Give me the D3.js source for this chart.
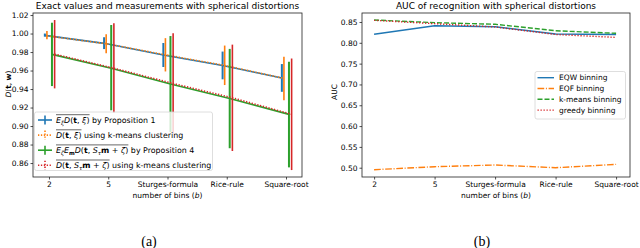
<!DOCTYPE html>
<html>
<head>
<meta charset="utf-8">
<script src="https://cdn.jsdelivr.net/npm/d3@7"></script>
<style>
  body { margin: 0; background: #fff; }
  svg { font-family: "DejaVu Sans", sans-serif; }
</style>
</head>
<body>
<div id="chart"></div>
<script>
// categories on the x axis (both panels)
var categories = ["2", "5", "Sturges-formula", "Rice-rule", "Square-root"];

// panel (a): means and error bar limits
var prop1Mean = [0.998, 0.9894, 0.9768, 0.9655, 0.952];
var prop1Lo   = [0.9966, 0.9832, 0.9638, 0.9505, 0.937];
var prop1Hi   = [1.0000, 0.9960, 0.9898, 0.9805, 0.967];

var kmMean = [0.9975, 0.989, 0.977, 0.9655, 0.9515];
var kmLo   = [0.9937, 0.9787, 0.9590, 0.9443, 0.928];
var kmHi   = [1.0027, 0.9993, 0.9950, 0.9870, 0.975];

var prop4Mean = [0.9775, 0.9624, 0.9454, 0.9297, 0.9126];
var prop4Lo   = [0.9432, 0.9170, 0.8935, 0.8760, 0.8553];
var prop4Hi   = [1.0117, 1.0092, 0.9973, 0.9834, 0.9695];

var km2Mean = [0.9777, 0.9625, 0.9460, 0.9305, 0.9127];
var km2Lo   = [0.9407, 0.9140, 0.8918, 0.8730, 0.8524];
var km2Hi   = [1.0146, 1.0110, 1.0002, 0.9880, 0.9730];

var yTicksA = [0.86, 0.88, 0.90, 0.92, 0.94, 0.96, 0.98, 1.00, 1.02];

// panel (b): AUC values
var eqwAuc    = [0.8204, 0.841, 0.8387, 0.8211, 0.820];
var eqfAuc    = [0.4952, 0.5024, 0.5065, 0.500, 0.508];
var kmeansAuc = [0.8548, 0.8484, 0.8445, 0.829, 0.8228];
var greedyAuc = [0.854, 0.846, 0.838, 0.820, 0.813];

var yTicksB = [0.50, 0.55, 0.60, 0.65, 0.70, 0.75, 0.80, 0.85];

var c = {blue: "#1f77b4", orange: "#ff7f0e", green: "#2ca02c", red: "#d62728"};
var fs = 7.5;

var svg = d3.select("#chart").append("svg")
    .attr("width", 640)
    .attr("height", 248);

// write a label made of styled pieces (mathtext-like)
function mathPieces(text, pieces) {
    var sub = false;
    pieces.forEach(function(p) {
        var ts = text.append("tspan").text(p[0]);
        var st = p[1];
        if (st.indexOf("i") >= 0) ts.attr("font-style", "italic");
        if (st.indexOf("b") >= 0) ts.attr("font-weight", "bold");
        var isSub = st.indexOf("s") >= 0;
        if (isSub) ts.attr("font-size", "0.7em");
        if (isSub && !sub) ts.attr("dy", 1.7);
        if (!isSub && sub) ts.attr("dy", -1.7);
        sub = isSub;
    });
    return sub;
}

function legendLabel(g, x, y, pieces, suffix) {
    var t = g.append("text").attr("x", x).attr("y", y).attr("font-size", 7.9);
    var sub = mathPieces(t, pieces);
    var w = t.node().getComputedTextLength();
    g.append("line")
        .attr("x1", x).attr("x2", x + w)
        .attr("y1", y - 8.1).attr("y2", y - 8.1)
        .attr("stroke", "#000").attr("stroke-width", 0.6);
    var s = t.append("tspan").text(suffix);
    if (sub) s.attr("dy", -1.7);
}

function frame(g, x, y) {
    g.append("rect")
        .attr("x", x.range()[0]).attr("y", y.range()[1])
        .attr("width", x.range()[1] - x.range()[0])
        .attr("height", y.range()[0] - y.range()[1])
        .attr("fill", "none").attr("stroke", "#222").attr("stroke-width", 0.8);
}

function axes(g, x, y, yTicks) {
    var xAxis = d3.axisBottom(x)
        .tickValues(d3.range(categories.length))
        .tickSize(2.5).tickPadding(2)
        .tickFormat(function(i) { return categories[i]; });
    var gx = g.append("g")
        .attr("transform", "translate(0," + y.range()[0] + ")")
        .call(xAxis);
    var yAxis = d3.axisLeft(y)
        .tickValues(yTicks)
        .tickSize(2.5).tickPadding(2)
        .tickFormat(d3.format(".2f"));
    var gy = g.append("g")
        .attr("transform", "translate(" + x.range()[0] + ",0)")
        .call(yAxis);
    [gx, gy].forEach(function(a) {
        a.select(".domain").remove();
        a.selectAll("text").attr("font-size", fs).attr("fill", "#000")
            .attr("font-family", "DejaVu Sans");
        a.selectAll("line").attr("stroke", "#222").attr("stroke-width", 0.8);
    });
}

function xLabel(g, cx) {
    var t = g.append("text")
        .attr("x", cx).attr("y", 198)
        .attr("text-anchor", "middle").attr("font-size", fs);
    t.append("tspan").text("number of bins (");
    t.append("tspan").attr("font-style", "italic").text("b");
    t.append("tspan").text(")");
}

// ---------- panel (a) ----------
var xa = d3.scaleLinear().domain([-0.27, 4.27]).range([33, 302]);
var ya = d3.scaleLinear().domain([0.8449, 1.0222]).range([177, 13]);
var ga = svg.append("g");

axes(ga, xa, ya, yTicksA);

var offsets = [-0.07, -0.035, 0.05, 0.095];
var seriesA = [
    {mean: prop1Mean, lo: prop1Lo, hi: prop1Hi, color: c.blue, dash: null, off: offsets[0], ew: 2},
    {mean: kmMean, lo: kmLo, hi: kmHi, color: c.orange, dash: "1.3,1.6", off: offsets[1], ew: 1.6},
    {mean: prop4Mean, lo: prop4Lo, hi: prop4Hi, color: c.green, dash: null, off: offsets[2], ew: 2},
    {mean: km2Mean, lo: km2Lo, hi: km2Hi, color: c.red, dash: "1.3,1.6", off: offsets[3], ew: 1.6}
];

seriesA.forEach(function(s) {
    var line = d3.line()
        .x(function(d, i) { return xa(i + s.off); })
        .y(function(d) { return ya(d); });
    ga.append("path")
        .attr("d", line(s.mean))
        .attr("fill", "none")
        .attr("stroke", s.color)
        .attr("stroke-width", 1.6)
        .attr("stroke-dasharray", s.dash);
    ga.selectAll(null)
        .data(s.mean)
        .enter()
        .append("line")
        .attr("x1", function(d, i) { return xa(i + s.off); })
        .attr("x2", function(d, i) { return xa(i + s.off); })
        .attr("y1", function(d, i) { return ya(s.lo[i]); })
        .attr("y2", function(d, i) { return ya(s.hi[i]); })
        .attr("stroke", s.color)
        .attr("stroke-width", s.ew);
});

frame(ga, xa, ya);

// legend (a)
var lga = ga.append("g");
lga.append("rect")
    .attr("x", 34.5).attr("y", 112).attr("width", 178).attr("height", 58.5)
    .attr("rx", 2).attr("fill", "#fff").attr("fill-opacity", 0.8)
    .attr("stroke", "#d5d5d5").attr("stroke-width", 0.8);

var legA = [
    {color: c.blue, dash: null,
     pieces: [["E", "i"], ["ξ", "is"], ["D", "i"], ["(", ""], ["t", "b"], [", ", ""], ["ξ", "i"], [")", ""]],
     suffix: " by Proposition 1"},
    {color: c.orange, dash: "1.3,1.6",
     pieces: [["D", "i"], ["(", ""], ["t", "b"], [", ", ""], ["ξ", "i"], [")", ""]],
     suffix: " using k-means clustering"},
    {color: c.green, dash: null,
     pieces: [["E", "i"], ["ζ", "is"], ["E", "i"], ["m", "bs"], ["D", "i"], ["(", ""], ["t", "b"], [", ", ""],
              ["S", "i"], ["τ", "is"], ["m", "b"], [" + ", ""], ["ζ", "i"], [")", ""]],
     suffix: " by Proposition 4"},
    {color: c.red, dash: "1.3,1.6",
     pieces: [["D", "i"], ["(", ""], ["t", "b"], [", ", ""], ["S", "i"], ["τ", "is"], ["m", "b"],
              [" + ", ""], ["ζ", "i"], [")", ""]],
     suffix: " using k-means clustering"}
];
legA.forEach(function(d, i) {
    var yy = 120 + i * 15.1;
    lga.append("line").attr("x1", 38).attr("x2", 52).attr("y1", yy).attr("y2", yy)
        .attr("stroke", d.color).attr("stroke-width", 1.6).attr("stroke-dasharray", d.dash);
    lga.append("line").attr("x1", 45).attr("x2", 45).attr("y1", yy - 4.5).attr("y2", yy + 4.5)
        .attr("stroke", d.color).attr("stroke-width", 1.6).attr("stroke-dasharray", d.dash);
    legendLabel(lga, 56, yy + 2.8, d.pieces, d.suffix);
});

ga.append("text").attr("x", 167.5).attr("y", 9.2)
    .attr("text-anchor", "middle").attr("font-size", 9)
    .text("Exact values and measurements with spherical distortions");

xLabel(ga, 167.5);

var yla = ga.append("text")
    .attr("transform", "translate(10.5,84) rotate(-90)")
    .attr("text-anchor", "middle").attr("font-size", fs);
mathPieces(yla, [["D", "i"], ["(", ""], ["t", "b"], [", ", ""], ["w", "b"], [")", ""]]);

// ---------- panel (b) ----------
var xb = d3.scaleLinear().domain([-0.2, 4.23]).range([362, 630]);
var yb = d3.scaleLinear().domain([0.4777, 0.8716]).range([177, 13]);
var gb = svg.append("g");

axes(gb, xb, yb, yTicksB);

var seriesB = [
    {name: "EQW binning", values: eqwAuc, color: c.blue, dash: null},
    {name: "EQF binning", values: eqfAuc, color: c.orange, dash: "6.7,1.7,1,1.7"},
    {name: "k-means binning", values: kmeansAuc, color: c.green, dash: "5,2"},
    {name: "greedy binning", values: greedyAuc, color: c.red, dash: "1.3,1.7"}
];

var lineB = d3.line()
    .x(function(d, i) { return xb(i); })
    .y(function(d) { return yb(d); });

seriesB.forEach(function(s) {
    gb.append("path")
        .attr("d", lineB(s.values))
        .attr("fill", "none")
        .attr("stroke", s.color)
        .attr("stroke-width", 1.4)
        .attr("stroke-dasharray", s.dash);
});

frame(gb, xb, yb);

var lgb = gb.append("g");
lgb.append("rect")
    .attr("x", 535).attr("y", 71.5).attr("width", 90.5).attr("height", 47.5)
    .attr("rx", 2).attr("fill", "#fff").attr("fill-opacity", 0.8)
    .attr("stroke", "#d5d5d5").attr("stroke-width", 0.8);
seriesB.forEach(function(s, i) {
    var yy = 77.7 + i * 10.8;
    lgb.append("line").attr("x1", 537.5).attr("x2", 554).attr("y1", yy).attr("y2", yy)
        .attr("stroke", s.color).attr("stroke-width", 1.4).attr("stroke-dasharray", s.dash);
    lgb.append("text").attr("x", 559).attr("y", yy + 2.7)
        .attr("font-size", fs).text(s.name);
});

gb.append("text").attr("x", 496).attr("y", 9.2)
    .attr("text-anchor", "middle").attr("font-size", 9)
    .text("AUC of recognition with spherical distortions");

xLabel(gb, 496);

gb.append("text")
    .attr("transform", "translate(336.5,92) rotate(-90)")
    .attr("text-anchor", "middle").attr("font-size", fs)
    .text("AUC");

// captions
svg.append("text").attr("x", 149).attr("y", 245.5)
    .attr("text-anchor", "middle").attr("font-size", 14)
    .attr("font-family", "Liberation Serif, serif").text("(a)");
svg.append("text").attr("x", 482).attr("y", 245.5)
    .attr("text-anchor", "middle").attr("font-size", 14)
    .attr("font-family", "Liberation Serif, serif").text("(b)");
</script>
</body>
</html>
